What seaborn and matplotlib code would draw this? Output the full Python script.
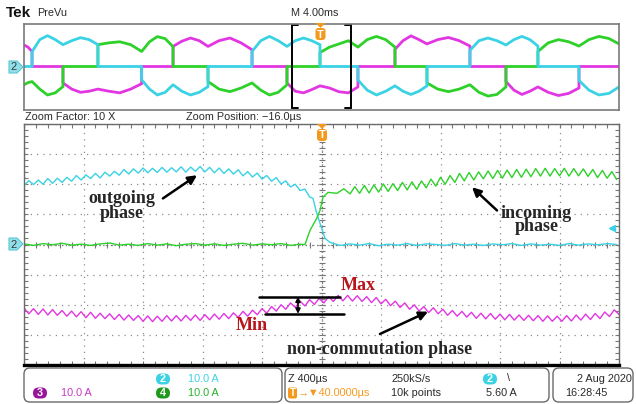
import numpy as np
import pandas as pd
import matplotlib
matplotlib.use("Agg")
import matplotlib.pyplot as plt
import seaborn as sns
from matplotlib.patches import FancyBboxPatch, Polygon
from matplotlib.ticker import MultipleLocator

sns.set_style("white")
plt.rcParams['font.family'] = ['Liberation Sans', 'DejaVu Sans']

# ---------------- zoomed window: time in us, current in A ----------------
cyan_t = np.concatenate([np.arange(-2000, -79, 32), [-57, -37, -10, 24, 57, 91], np.arange(128, 2001, 64)])
cyan_i = [19.5, 21.2, 19.9, 21.4, 20.0, 21.9, 20.3, 22.0, 20.6, 22.3,
          21.0, 22.9, 21.4, 23.1, 21.9, 23.6, 22.1, 24.0, 22.7, 24.3,
          23.0, 24.9, 23.4, 25.1, 23.7, 25.4, 23.8, 25.3, 23.9, 25.6,
          24.0, 25.5, 24.1, 25.8, 24.0, 25.7, 24.3, 25.9, 24.1, 25.6,
          23.8, 25.4, 23.6, 25.1, 23.4, 24.8, 22.8, 24.2, 22.4, 23.7,
          21.7, 22.9, 21.0, 22.2, 20.1, 21.1, 19.1, 20.0, 17.9, 18.4,
          15.8,
          15.3, 11.3, 7.0, 2.0, 0.7, 0.2,
          -0.3, 0.2, -0.2, 0.3, -0.4, 0.1, -0.2, 0.3, -0.3, 0.2,
          0.0, -0.3, 0.3, -0.2, 0.1, -0.3, 0.2, -0.1, 0.3, -0.3,
          0.2, -0.2, 0.1, -0.3, 0.3, -0.2, 0.2, -0.1, 0.3, 0.0]

green_t = np.concatenate([np.arange(-2000, -143, 64), [-111, -77, -32, -10, 10, 44, 104, 150], np.arange(192, 2001, 32)])
green_i = [0.2, -0.3, 0.3, -0.1, 0.4, -0.2, 0.1, -0.3, 0.2, 0.5,
           -0.2, 0.1, -0.3, 0.3, -0.2, 0.2, -0.4, 0.1, 0.3, -0.2,
           0.2, -0.3, 0.1, 0.4, -0.2, 0.2, -0.1, 0.3, -0.3, 0.1,
           0.0, 4.7, 8.7, 11.3, 15.7, 17.3, 17.0, 18.5,
           16.8, 19.2, 17.0, 19.6, 17.1, 19.8, 17.4, 20.1, 17.6, 20.2,
           17.9, 20.6, 18.1, 20.8, 18.3, 21.1, 18.8, 21.7, 19.4, 22.3,
           20.0, 22.9, 20.6, 23.6, 21.1, 23.9, 21.4, 24.1, 21.8, 24.4,
           21.9, 24.6, 22.0, 24.7, 22.2, 24.9, 22.3, 25.0, 22.5, 25.2,
           22.7, 25.3, 22.7, 25.2, 22.8, 25.3, 22.7, 25.2, 22.8, 25.1,
           22.6, 24.9, 22.2, 24.6, 22.0, 24.2, 21.6]

magenta_t = np.arange(-2000, 2001, 32)
magenta_i = [-21.1, -23.0, -21.3, -23.2, -21.4, -23.4, -21.6, -23.5, -21.9, -23.8,
             -22.1, -24.0, -22.3, -24.3, -22.5, -24.5, -22.8, -24.6, -23.0, -24.9,
             -23.2, -25.1, -23.4, -25.2, -23.6, -25.5, -23.7, -25.6, -23.8, -25.5,
             -23.6, -25.4, -23.6, -25.4, -23.5, -25.2, -23.4, -25.2, -23.3, -25.0,
             -23.1, -24.8, -22.9, -24.6, -22.7, -24.2, -22.2, -23.8, -21.8, -23.3,
             -21.3, -22.8, -20.6, -22.1, -20.0, -21.5, -19.4, -20.9, -18.8, -20.4,
             -18.3, -19.9, -17.9, -19.4, -17.3, -18.9, -16.9, -18.7, -16.9, -18.8,
             -17.0, -18.9, -17.3, -19.3, -17.6, -19.7, -18.2, -20.3, -18.8, -20.9,
             -19.4, -21.5, -20.0, -22.1, -20.6, -22.6, -21.0, -23.0, -21.5, -23.5,
             -21.9, -23.8, -22.2, -24.1, -22.5, -24.5, -22.8, -24.7, -22.9, -24.8,
             -23.1, -25.0, -23.2, -25.1, -23.4, -25.2, -23.5, -25.3, -23.6, -25.5,
             -23.7, -25.5, -23.8, -25.5, -23.6, -25.4, -23.4, -25.1, -23.1, -24.9,
             -22.9, -24.6, -22.4, -23.9, -21.7, -23.2]

mag_max = -17.3
mag_min = -23.0
trig_level = 5.6

# ---------------- overview: time in ms, current in A ----------------
ov_edges = [-20.0, -19.46, -17.38, -15.03, -12.09, -9.98, -7.63, -4.67, -2.32,
            -0.10, 2.45, 4.94, 7.09, 9.98, 12.40, 14.55, 17.31, 20.0]
Z = [0, 0, 0, 0, 0]
ov_cyan = [Z, [13.7, 25, 28.7, 25, 20.3], [20.3, 24, 26.8, 25, 20.3], Z,
           [-12.4, -21, -26.5, -24, -17], [-17, -23, -26.5, -24, -18.7], Z,
           [14, 24, 28, 24, 18.7], [18.7, 24, 26.5, 24, 20.3], Z,
           [-12.5, -22, -26.5, -23, -18], [-18, -23, -26, -23, -18], Z,
           [15, 24, 26.5, 24, 20], [20, 25, 28, 25, 19], Z,
           [-13, -22, -26.5, -25, -19]]
ov_green = [[-17, -16, -15, -14.5, -14], [-14, -21, -26.5, -24.5, -18.7], Z,
            [20.3, 22, 23, 20.3, 14], [14, 23, 27.8, 25.9, 18.4], Z,
            [-14, -21, -23.4, -20, -15.3], [-15.3, -22, -26.5, -24, -17], Z,
            [13, 18, 21, 24, 18], [18, 25, 28, 25, 18], Z,
            [-15.3, -21, -23.4, -21, -17], [-17, -24, -27.5, -26, -19], Z,
            [14, 22, 25, 23, 19], [19, 25, 28, 26, 21]]
ov_magenta = [[20, 19, 18, 16, 14], Z, [-15.3, -21, -24, -23, -21],
              [-21, -23, -24.5, -21, -16], Z, [18.7, 23.5, 26.5, 24, 18.7],
              [18.7, 24, 26.5, 22, 15.6], Z, [-15.3, -23, -24.5, -21.5, -18],
              [-18, -20, -23.5, -24.5, -19], Z, [16, 24, 28.5, 25, 21],
              [21, 25, 27, 24, 19], Z, [-14, -22, -26, -23, -19],
              [-19, -24, -27, -25, -20], Z]

CYAN = '#3ad2e4'
GREEN = '#2ed12a'
MAGENTA = '#e236e2'
ORANGE = '#f39a1e'


def overview_frame(steps, name):
    t, i = [], []
    for k, vals in enumerate(steps):
        t.extend(np.linspace(ov_edges[k], ov_edges[k + 1], 5))
        i.extend(vals)
    return pd.DataFrame({'t': t, 'i': i, 'ch': name})


W, H = 636, 404
fig = plt.figure(figsize=(W / 100, H / 100), dpi=100)

# overview axes
ax_ov = fig.add_axes([24 / W, 1 - 109.5 / H, 595 / W, 86 / H])
for steps, name, col in [(ov_magenta, 'm', MAGENTA), (ov_green, 'g', GREEN), (ov_cyan, 'c', CYAN)]:
    sns.lineplot(data=overview_frame(steps, name), x='t', y='i', ax=ax_ov, color=col,
                 lw=2.0, sort=False, estimator=None, legend=False, solid_joinstyle='round')
ax_ov.set_xlim(-20, 20)
ax_ov.set_ylim(-40, 40)
ax_ov.set_xticks([])
ax_ov.set_yticks([])
ax_ov.set_xlabel('')
ax_ov.set_ylabel('')
for s in ax_ov.spines.values():
    s.set_color('#7a7a7a')
    s.set_linewidth(1.2)
# zoom bracket (4 ms window = 10x zoom)
for side in (-1, 1):
    ax_ov.plot([side * 2, side * 2], [-38.5, 38.5], color='k', lw=1.4)
    ax_ov.plot([side * 2, side * 1.55], [38.5, 38.5], color='k', lw=1.4)
    ax_ov.plot([side * 2, side * 1.55], [-38.5, -38.5], color='k', lw=1.4)

# main zoomed axes
ax = fig.add_axes([24 / W, 1 - 365 / H, 595 / W, 241 / H])
ax.set_xlim(-2000, 2000)
ax.set_ylim(-40, 40)
ax.set_xticks(np.arange(-2000, 2001, 400))
ax.set_yticks(np.arange(-40, 41, 10))
ax.xaxis.set_minor_locator(MultipleLocator(80))
ax.yaxis.set_minor_locator(MultipleLocator(2))
ax.tick_params(which='both', direction='in', top=True, right=True, bottom=True, left=True,
               length=3, width=0.8, color='#777777', labelbottom=False, labelleft=False)
ax.grid(True, which='major', color='#8c8c8c', ls=(0, (1, 4)), lw=0.9)
ax.axvline(0, color='#777777', ls=(0, (1, 2)), lw=0.9)
ax.axhline(0, color='#777777', ls=(0, (1, 2)), lw=0.9)
minor_x = np.arange(-2000, 2001, 80)
minor_y = np.arange(-40, 41, 2)
ax.plot(minor_x, np.zeros_like(minor_x), ls='none', marker='|', ms=4, color='#777777', mew=0.8)
ax.plot(np.zeros_like(minor_y), minor_y, ls='none', marker='_', ms=4, color='#777777', mew=0.8)
for s in ax.spines.values():
    s.set_color('#6a6a6a')
    s.set_linewidth(1.0)
ax.spines['bottom'].set_color('k')
ax.spines['bottom'].set_linewidth(2.4)

main_df = pd.concat([
    pd.DataFrame({'t': cyan_t, 'i': cyan_i, 'ch': 'c'}),
    pd.DataFrame({'t': green_t, 'i': green_i, 'ch': 'g'}),
    pd.DataFrame({'t': magenta_t, 'i': magenta_i, 'ch': 'm'}),
])
sns.lineplot(data=main_df, x='t', y='i', hue='ch', palette={'c': CYAN, 'g': GREEN, 'm': MAGENTA},
             ax=ax, lw=1.0, sort=False, estimator=None, legend=False)
ax.set_xlabel('')
ax.set_ylabel('')
ax.plot([1950], [trig_level], marker='<', ms=5, color=CYAN, ls='none')

# annotations
serif = dict(family='Liberation Serif', fontweight='bold', fontsize=13)
arrow = dict(arrowstyle='-|>', color='k', lw=1.8, mutation_scale=13, shrinkA=0, shrinkB=0)
ax.text(-1341, 12.7, 'outgoing\nphase', ha='center', va='center', linespacing=0.85, **serif)
ax.annotate('', xy=(-837, 23.0), xytext=(-1066, 15.3), arrowprops=arrow)
ax.text(1446, 8.0, 'incoming\nphase', ha='center', va='center', linespacing=0.7, **serif)
ax.annotate('', xy=(1012, 19.0), xytext=(1180, 11.3), arrowprops=arrow)
ax.text(393, -34.7, 'non-commutation phase', ha='center', va='center', **serif)
ax.annotate('', xy=(716, -22.3), xytext=(393, -29.7), arrowprops=arrow)
ax.plot([-420, 124], [mag_max, mag_max], color='k', lw=1.8)
ax.plot([-380, 151], [mag_min, mag_min], color='k', lw=1.8)
ax.annotate('', xy=(-158, mag_max), xytext=(-158, mag_min),
            arrowprops=dict(arrowstyle='<|-|>', color='k', lw=1.2, mutation_scale=7, shrinkA=0, shrinkB=0))
ax.text(245, -13.7, 'Max', ha='center', va='center', color='#b8141a', **serif)
ax.text(-467, -27.0, 'Min', ha='center', va='center', color='#b8141a', **serif)

# pixel overlay for the scope furniture
px = fig.add_axes([0, 0, 1, 1], zorder=10)
px.set_xlim(0, W)
px.set_ylim(H, 0)
px.axis('off')
px.patch.set_alpha(0)

small = dict(fontsize=7.8, va='center', color='#2a2a2a')
px.text(6, 13, 'Tek', fontsize=11, fontweight='bold', va='center', color='#111111')
px.text(37, 13, 'PreVu', **small)
px.text(291, 13, 'M 4.00ms', **small)
px.text(25, 117, 'Zoom Factor: 10 X', **small)
px.text(186, 117, 'Zoom Position: \u221216.0\u00b5s', **small)


def ch_marker(y):
    px.add_patch(Polygon([(9, y - 6), (17, y - 6), (23, y), (17, y + 6), (9, y + 6)],
                         closed=True, fc='#8fe0ea', ec='#5cc6d6', lw=0.8))
    px.text(14, y + 0.5, '2', ha='center', va='center', fontsize=8, color='#3a3a3a')


ch_marker(67)
ch_marker(244)


def t_marker(x, ytop):
    px.add_patch(Polygon([(x - 5, ytop), (x + 5, ytop), (x, ytop + 5)], closed=True, fc=ORANGE, ec='none'))
    px.add_patch(FancyBboxPatch((x - 5, ytop + 5), 10, 12, boxstyle='round,pad=0,rounding_size=3',
                                fc=ORANGE, ec='none'))
    px.text(x, ytop + 11.5, 'T', ha='center', va='center', fontsize=8, fontweight='bold', color='white')


t_marker(320.5, 23)
t_marker(322, 124)

# bottom info boxes
for x0, w in [(24, 258), (285, 264), (553, 80)]:
    px.add_patch(FancyBboxPatch((x0, 368), w, 34, boxstyle='round,pad=0,rounding_size=6',
                                fc='white', ec='#6a6a6a', lw=1.0))


def pill(x, y, label, col):
    px.add_patch(FancyBboxPatch((x - 7, y - 5.5), 14, 11, boxstyle='round,pad=0,rounding_size=5.5',
                                fc=col, ec='none'))
    px.text(x, y + 0.3, label, ha='center', va='center', fontsize=7.8, color='white', fontweight='bold')


pill(163, 379, '2', CYAN)
px.text(188, 379, '10.0 A', fontsize=7.8, va='center', color=CYAN)
pill(40, 393, '3', '#9a159e')
px.text(61, 393, '10.0 A', fontsize=7.8, va='center', color='#c53ac5')
pill(163, 393, '4', '#1f9a1f')
px.text(188, 393, '10.0 A', fontsize=7.8, va='center', color='#27b027')

px.text(288, 379, 'Z 400\u00b5s', **small)
px.add_patch(FancyBboxPatch((288, 387.5), 9, 11, boxstyle='round,pad=0,rounding_size=2', fc=ORANGE, ec='none'))
px.text(292.5, 393.3, 'T', ha='center', va='center', fontsize=7, fontweight='bold', color='white')
px.text(298, 393, '\u2192\u25bc40.0000\u00b5s', fontsize=7.8, va='center', color=ORANGE)
px.text(391, 379, '250kS/s', **small)
px.text(391, 393, '10k points', **small)
pill(490, 379, '2', CYAN)
px.text(507, 378, '\\', **small)
px.text(486, 393, '5.60 A', **small)
px.text(577, 379, '2 Aug 2020', **small)
px.text(565, 393, '16:28:45', **small)

fig.savefig('out.png', dpi=100)
